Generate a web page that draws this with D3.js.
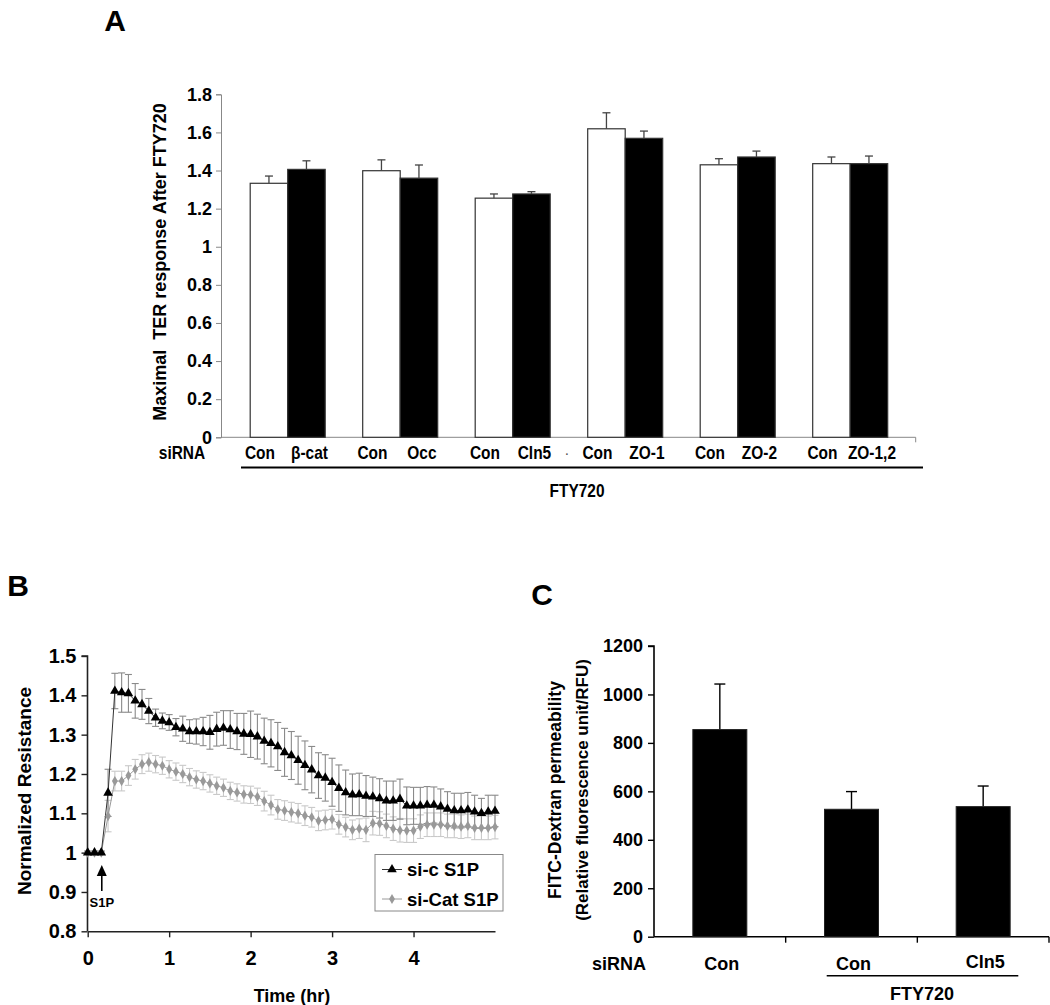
<!DOCTYPE html>
<html><head><meta charset="utf-8">
<script src="https://cdn.jsdelivr.net/npm/d3@7"></script>
<style>
body{margin:0;background:#fff;}
svg{display:block;font-family:"Liberation Sans",Arial,sans-serif;font-weight:bold;}
text{white-space:pre;}
</style></head>
<body>
<svg id="chart" width="1050" height="1005"></svg>
<script>
// ---------- Panel A data ----------
const groupsA = ["β-cat","Occ","Cln5","ZO-1","ZO-2","ZO-1,2"];
const conLabelsA = ["Con","Con","Con","Con","Con","Con"];
const conValsA = [1.333,1.399,1.255,1.619,1.430,1.436];
const conErrA  = [0.038,0.057,0.022,0.084,0.032,0.035];
const kdValsA  = [1.406,1.360,1.277,1.569,1.471,1.436];
const kdErrA   = [0.045,0.069,0.012,0.038,0.031,0.040];
const ticksA = [0,0.2,0.4,0.6,0.8,1,1.2,1.4,1.6,1.8];

// ---------- Panel B data ----------
const timeMinB = [0,5,10,15,20,25,30,35,40,45,50,55,60,65,70,75,80,85,90,95,100,105,110,115,120,125,130,135,140,145,150,155,160,165,170,175,180,185,190,195,200,205,210,215,220,225,230,235,240,245,250,255,260,265,270,275,280,285,290,295,300];
const siCB = [1.000,1.000,1.000,1.152,1.411,1.407,1.405,1.386,1.377,1.360,1.343,1.335,1.331,1.319,1.315,1.308,1.308,1.308,1.306,1.314,1.317,1.313,1.308,1.302,1.301,1.295,1.284,1.278,1.270,1.255,1.247,1.235,1.222,1.211,1.196,1.190,1.179,1.164,1.153,1.147,1.148,1.144,1.142,1.138,1.132,1.132,1.136,1.119,1.119,1.119,1.121,1.121,1.117,1.111,1.107,1.107,1.109,1.104,1.100,1.104,1.106];
const siCErrB = [0.004,0.004,0.004,0.060,0.045,0.050,0.048,0.044,0.038,0.032,0.022,0.020,0.020,0.022,0.032,0.030,0.032,0.036,0.043,0.043,0.044,0.048,0.046,0.052,0.059,0.057,0.058,0.060,0.061,0.061,0.061,0.061,0.062,0.059,0.058,0.059,0.061,0.059,0.057,0.053,0.054,0.052,0.050,0.050,0.050,0.050,0.051,0.048,0.047,0.047,0.047,0.046,0.045,0.044,0.044,0.044,0.044,0.042,0.038,0.042,0.040];
const siCatB = [1.000,1.000,1.000,1.093,1.182,1.182,1.196,1.212,1.225,1.230,1.225,1.221,1.212,1.206,1.200,1.192,1.186,1.182,1.176,1.170,1.165,1.157,1.153,1.148,1.147,1.142,1.131,1.121,1.110,1.107,1.103,1.100,1.094,1.090,1.081,1.083,1.085,1.072,1.065,1.058,1.061,1.058,1.075,1.074,1.068,1.061,1.057,1.056,1.056,1.066,1.071,1.071,1.071,1.068,1.068,1.066,1.068,1.063,1.063,1.063,1.065];
const siCatErrB = [0.004,0.004,0.004,0.040,0.025,0.025,0.025,0.025,0.024,0.023,0.022,0.022,0.022,0.022,0.022,0.022,0.022,0.022,0.022,0.022,0.022,0.022,0.022,0.022,0.022,0.022,0.025,0.025,0.025,0.025,0.025,0.025,0.025,0.025,0.025,0.025,0.025,0.025,0.025,0.025,0.025,0.030,0.030,0.030,0.030,0.030,0.030,0.030,0.030,0.030,0.030,0.030,0.030,0.030,0.030,0.030,0.030,0.030,0.030,0.030,0.030];
const ticksBy = [0.8,0.9,1,1.1,1.2,1.3,1.4,1.5];
const ticksBx = [0,1,2,3,4];
const legendB = ["si-c S1P","si-Cat S1P"];

// ---------- Panel C data ----------
const catsC = ["Con","Con ","Cln5"];
const valsC = [855,526,537];
const errC  = [188,73,85];
const ticksC = [0,200,400,600,800,1000,1200];

const svg = d3.select("#chart");
const narrow = (g,x,y,txt,size,anchor)=>g.append("text")
  .attr("transform",`translate(${x},${y}) scale(0.86,1)`).attr("text-anchor",anchor||"middle")
  .attr("font-size",size).text(txt);

// ================= Panel A =================
{
  const y = d3.scaleLinear().domain([0,1.8]).range([437.3,94.3]);
  const x = d3.scaleBand().domain(groupsA).range([231.45,906.45]);
  const xi = d3.scaleBand().domain(["con","kd"]).range([0,x.bandwidth()]).paddingOuter(0.5);
  const g = svg.append("g");
  const ya = g.append("g").attr("transform","translate(221,0)")
    .call(d3.axisLeft(y).tickValues(ticksA).tickSize(5).tickPadding(4).tickFormat(d=>String(+d.toFixed(1))));
  ya.select(".domain").attr("stroke","#888");
  ya.selectAll(".tick line").attr("stroke","#888");
  ya.selectAll("text").attr("font-size",18).attr("font-weight","bold").attr("fill","#000").attr("font-family","Liberation Sans, Arial");
  g.append("line").attr("x1",221).attr("x2",915.7).attr("y1",y(0)).attr("y2",y(0)).attr("stroke","#888");
  g.append("line").attr("x1",915.7).attr("x2",915.7).attr("y1",y(0)).attr("y2",y(0)+5).attr("stroke","#888");
  const errLine = (cx,v,e,w)=>{
    g.append("line").attr("x1",cx).attr("x2",cx).attr("y1",y(v)).attr("y2",y(v+e)).attr("stroke","#444").attr("stroke-width",1.3);
    g.append("line").attr("x1",cx-w).attr("x2",cx+w).attr("y1",y(v+e)).attr("y2",y(v+e)).attr("stroke","#444").attr("stroke-width",1.3);
  };
  groupsA.forEach((k,i)=>{
    const x0 = x(k);
    g.append("rect").attr("x",x0+xi("con")).attr("y",y(conValsA[i])).attr("width",xi.bandwidth()).attr("height",y(0)-y(conValsA[i]))
      .attr("fill","#fff").attr("stroke","#333").attr("stroke-width",1.2);
    g.append("rect").attr("x",x0+xi("kd")).attr("y",y(kdValsA[i])).attr("width",xi.bandwidth()).attr("height",y(0)-y(kdValsA[i]))
      .attr("fill","#000").attr("stroke","#333").attr("stroke-width",1.2);
    errLine(x0+xi("con")+xi.bandwidth()/2, conValsA[i], conErrA[i], 4);
    errLine(x0+xi("kd")+xi.bandwidth()/2, kdValsA[i], kdErrA[i], 4);
    narrow(g, x0+xi("con")+xi.bandwidth()/2-9, 459, conLabelsA[i], 18);
    narrow(g, x0+xi("kd")+xi.bandwidth()/2+3, 459, k, 18);
  });
  g.append("text").attr("x",567).attr("y",455).attr("text-anchor","middle").attr("font-size",10).attr("fill","#555").text(".");
  narrow(g,182,459,"siRNA",18);
  g.append("line").attr("x1",241).attr("x2",923).attr("y1",467.5).attr("y2",467.5).attr("stroke","#000").attr("stroke-width",2);
  narrow(g,577,497,"FTY720",18);
  g.append("text").attr("transform","translate(166,262) rotate(-90)").attr("text-anchor","middle").attr("font-size",18).text("Maximal  TER response After FTY720");
  g.append("text").attr("x",115).attr("y",31).attr("text-anchor","middle").attr("font-size",30).text("A");
}

// ================= Panel B =================
{
  const x = d3.scaleLinear().domain([0,300]).range([87.7,495]);
  const y = d3.scaleLinear().domain([0.8,1.5]).range([931.3,656]);
  const g = svg.append("g");
  const ya = g.append("g").attr("transform","translate(87.5,0)")
    .call(d3.axisLeft(y).tickValues(ticksBy).tickSize(6).tickPadding(5).tickFormat(d=>String(+d.toFixed(1))));
  const xa = g.append("g").attr("transform",`translate(0,${y(0.8)})`)
    .call(d3.axisBottom(x).tickValues(ticksBx.map(h=>h*60)).tickSize(6).tickPadding(14).tickFormat(d=>d/60).tickSizeOuter(0));
  [ya,xa].forEach(a=>{
    a.select(".domain").attr("stroke","#222").attr("stroke-width",1.6);
    a.selectAll(".tick line").attr("stroke","#222").attr("stroke-width",1.4);
    a.selectAll("text").attr("font-size",20).attr("font-weight","bold").attr("fill","#000").attr("font-family","Liberation Sans, Arial");
  });
  ya.select(".domain").attr("d",`M-6,${y(1.5)}H0V${y(0.8)}`);
  const drawErr = (vals,errs,col)=>{
    vals.forEach((v,i)=>{
      const cx = x(timeMinB[i]), e = errs[i];
      g.append("line").attr("x1",cx).attr("x2",cx).attr("y1",y(v-e)).attr("y2",y(v+e)).attr("stroke",col).attr("stroke-width",1.1);
      [v-e,v+e].forEach(t=>g.append("line").attr("x1",cx-3.5).attr("x2",cx+3.5).attr("y1",y(t)).attr("y2",y(t)).attr("stroke",col).attr("stroke-width",1.1));
    });
  };
  drawErr(siCatB,siCatErrB,"#c9c9c9");
  drawErr(siCB,siCErrB,"#8a8a8a");
  const line = d3.line().x((d,i)=>x(timeMinB[i])).y(d=>y(d));
  g.append("path").datum(siCatB).attr("d",line).attr("fill","none").attr("stroke","#9a9a9a").attr("stroke-width",1);
  g.append("path").datum(siCB).attr("d",line).attr("fill","none").attr("stroke","#333").attr("stroke-width",1);
  const tri = d3.symbol().type(d3.symbolTriangle).size(40);
  const dia = d3.symbol().type(d3.symbolDiamond).size(30);
  g.selectAll(".dia").data(siCatB).join("path").attr("d",dia).attr("transform",(d,i)=>`translate(${x(timeMinB[i])},${y(d)})`).attr("fill","#999");
  g.selectAll(".tri").data(siCB).join("path").attr("d",tri).attr("transform",(d,i)=>`translate(${x(timeMinB[i])},${y(d)})`).attr("fill","#000");
  const ax = x(10)+0.5;
  g.append("line").attr("x1",ax).attr("x2",ax).attr("y1",874).attr("y2",891).attr("stroke","#000").attr("stroke-width",1.6);
  g.append("path").attr("d",`M${ax},865L${ax-5},876L${ax+5},876Z`).attr("fill","#000");
  g.append("text").attr("x",ax).attr("y",907).attr("text-anchor","middle").attr("font-size",13).text("S1P");
  g.append("rect").attr("x",375).attr("y",854.5).attr("width",128).attr("height",56.5).attr("fill","#fff").attr("stroke","#888").attr("stroke-width",1);
  const ly = [869.5,899];
  g.append("line").attr("x1",382).attr("x2",402).attr("y1",ly[0]).attr("y2",ly[0]).attr("stroke","#333");
  g.append("path").attr("d",tri).attr("transform",`translate(392,${ly[0]})`).attr("fill","#000");
  g.append("line").attr("x1",382).attr("x2",402).attr("y1",ly[1]).attr("y2",ly[1]).attr("stroke","#9a9a9a");
  g.append("path").attr("d",dia).attr("transform",`translate(392,${ly[1]})`).attr("fill","#999");
  legendB.forEach((t,i)=>g.append("text").attr("x",407).attr("y",ly[i]+6.5).attr("font-size",18.5).text(t));
  g.append("text").attr("transform","translate(31,791) rotate(-90)").attr("text-anchor","middle").attr("font-size",19).text("Normalized Resistance");
  g.append("text").attr("x",292).attr("y",1002).attr("text-anchor","middle").attr("font-size",18).text("Time (hr)");
  g.append("text").attr("x",18).attr("y",596).attr("text-anchor","middle").attr("font-size",30).text("B");
}

// ================= Panel C =================
{
  const y = d3.scaleLinear().domain([0,1200]).range([936.7,646]);
  const x = d3.scaleBand().domain(catsC).range([654,1049]).paddingInner(0.59).paddingOuter(0.295);
  const g = svg.append("g");
  const ya = g.append("g").attr("transform","translate(654,0)")
    .call(d3.axisLeft(y).tickValues(ticksC).tickSize(6).tickPadding(5).tickFormat(d3.format("d")));
  ya.select(".domain").attr("d",`M-6,${y(1200)}H0V${y(0)}`);
  const step = x.step();
  const bounds = [1,2,3].map(k=>654+k*step);
  g.append("line").attr("x1",654).attr("x2",1049).attr("y1",y(0)).attr("y2",y(0)).attr("stroke","#000").attr("stroke-width",1.6);
  bounds.forEach(b=>g.append("line").attr("x1",b).attr("x2",b).attr("y1",y(0)).attr("y2",y(0)+6).attr("stroke","#000").attr("stroke-width",1.4));
  ya.select(".domain").attr("stroke","#000").attr("stroke-width",1.6);
  ya.selectAll(".tick line").attr("stroke","#000").attr("stroke-width",1.4);
  ya.selectAll("text").attr("font-size",18).attr("font-weight","bold").attr("fill","#000").attr("font-family","Liberation Sans, Arial");
  catsC.forEach((c,i)=>{
    const cx = x(c)+x.bandwidth()/2;
    g.append("line").attr("x1",cx).attr("x2",cx).attr("y1",y(valsC[i])).attr("y2",y(valsC[i]+errC[i])).attr("stroke","#000").attr("stroke-width",1.4);
    g.append("line").attr("x1",cx-5.5).attr("x2",cx+5.5).attr("y1",y(valsC[i]+errC[i])).attr("y2",y(valsC[i]+errC[i])).attr("stroke","#000").attr("stroke-width",1.4);
    g.append("rect").attr("x",x(c)).attr("y",y(valsC[i])).attr("width",x.bandwidth()).attr("height",y(0)-y(valsC[i])).attr("fill","#000").attr("stroke","#222");
    g.append("text").attr("x",cx+2).attr("y",i===2?968:970).attr("text-anchor","middle").attr("font-size",18).text(c.trim());
  });
  g.append("text").attr("x",619).attr("y",970).attr("text-anchor","middle").attr("font-size",18).text("siRNA");
  g.append("line").attr("x1",826.7).attr("x2",1018.3).attr("y1",975.7).attr("y2",975.7).attr("stroke","#000").attr("stroke-width",1.6);
  g.append("text").attr("x",922).attr("y",1000).attr("text-anchor","middle").attr("font-size",18).text("FTY720");
  g.append("text").attr("transform","translate(561,790) rotate(-90)").attr("text-anchor","middle").attr("font-size",17.5).text("FITC-Dextran permeability");
  g.append("text").attr("transform","translate(588,790) rotate(-90)").attr("text-anchor","middle").attr("font-size",17).text("(Relative fluorescence unit/RFU)");
  g.append("text").attr("x",542).attr("y",605).attr("text-anchor","middle").attr("font-size",30).text("C");
}
</script>
</body></html>
